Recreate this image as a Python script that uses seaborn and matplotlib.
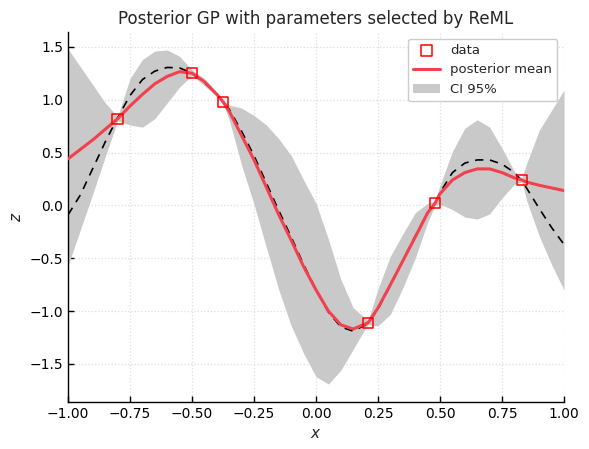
import numpy as np
import pandas as pd
import matplotlib
matplotlib.use('Agg')
import matplotlib.pyplot as plt
import seaborn as sns

x_grid = [-1.00, -0.95, -0.90, -0.85, -0.80, -0.75, -0.70, -0.65, -0.60, -0.55,
          -0.50, -0.45, -0.40, -0.375, -0.35, -0.30, -0.25, -0.20, -0.15, -0.10, -0.05,
          0.00, 0.05, 0.10, 0.15, 0.20, 0.21, 0.25, 0.30, 0.35, 0.40, 0.45, 0.48,
          0.50, 0.55, 0.60, 0.65, 0.70, 0.75, 0.80, 0.83, 0.85, 0.90, 0.95, 1.00]

posterior_mean = [0.44, 0.53, 0.62, 0.72, 0.82, 0.94, 1.05, 1.15, 1.22, 1.265,
                  1.25, 1.17, 1.05, 0.98, 0.89, 0.66, 0.43, 0.17, -0.09, -0.33, -0.58,
                  -0.80, -1.00, -1.13, -1.17, -1.12, -1.11, -0.97, -0.75, -0.525, -0.30, -0.07, 0.02,
                  0.11, 0.24, 0.31, 0.345, 0.345, 0.31, 0.26, 0.24, 0.22, 0.19, 0.165, 0.14]

ci_upper = [1.48, 1.31, 1.14, 0.97, 0.84, 1.20, 1.38, 1.46, 1.47, 1.41,
            1.28, 1.20, 1.07, 1.00, 0.95, 0.92, 0.85, 0.76, 0.63, 0.47, 0.24,
            0.02, -0.32, -0.70, -0.97, -1.07, -1.09, -0.79, -0.48, -0.27, -0.07, 0.02, 0.04,
            0.19, 0.51, 0.73, 0.81, 0.74, 0.54, 0.32, 0.26, 0.40, 0.71, 0.90, 1.09]

ci_lower = [-0.57, -0.23, 0.11, 0.46, 0.80, 0.76, 0.74, 0.82, 0.97, 1.12,
            1.23, 1.13, 1.03, 0.96, 0.81, 0.38, 0.01, -0.40, -0.80, -1.14, -1.40,
            -1.62, -1.69, -1.56, -1.36, -1.16, -1.13, -1.14, -1.03, -0.78, -0.50, -0.16, 0.00,
            0.01, -0.04, -0.11, -0.13, -0.08, 0.07, 0.20, 0.22, 0.04, -0.29, -0.56, -0.80]

true_f = [-0.09, 0.10, 0.35, 0.60, 0.83, 1.04, 1.19, 1.27, 1.305, 1.30,
          1.25, 1.16, 1.05, 0.98, 0.91, 0.70, 0.47, 0.21, -0.05, -0.30, -0.56,
          -0.80, -1.01, -1.15, -1.19, -1.13, -1.11, -0.98, -0.755, -0.525, -0.29, -0.07, 0.02,
          0.12, 0.31, 0.40, 0.43, 0.43, 0.39, 0.31, 0.23, 0.16, -0.03, -0.21, -0.37]

x_data = [-0.80, -0.50, -0.375, 0.21, 0.48, 0.83]
z_data = [0.82, 1.25, 0.98, -1.11, 0.02, 0.24]

sns.set_theme(style='white', rc={
    'xtick.direction': 'in', 'ytick.direction': 'in',
    'xtick.bottom': True, 'ytick.left': True,
    'axes.edgecolor': 'black', 'axes.linewidth': 1.0,
    'xtick.color': 'black', 'ytick.color': 'black',
})
plt.rcParams['font.family'] = ['DejaVu Sans']

curve = pd.DataFrame({'x': x_grid, 'mean': posterior_mean, 'true': true_f})
obs = pd.DataFrame({'x': x_data, 'z': z_data})

fig, ax = plt.subplots(figsize=(5.89, 4.49), dpi=100)
fig.subplots_adjust(left=0.1155, right=0.9576, bottom=0.1047, top=0.9287)

ax.fill_between(x_grid, ci_lower, ci_upper, color='#c9c9c9', linewidth=0,
                label='CI 95%', zorder=1)
sns.lineplot(data=curve, x='x', y='true', ax=ax, color='black', linewidth=1.2,
             linestyle=(0, (5, 4)), zorder=2)
sns.lineplot(data=curve, x='x', y='mean', ax=ax, color='#f2404e', linewidth=2.2,
             label='posterior mean', zorder=3)
sns.scatterplot(data=obs, x='x', y='z', ax=ax, marker='s', s=55,
                facecolor='none', edgecolor='red', linewidth=1.1,
                label='data', zorder=4)

ax.set_xlim(-1, 1)
ax.set_ylim(-1.86, 1.64)
ax.set_xticks([-1.0, -0.75, -0.5, -0.25, 0.0, 0.25, 0.5, 0.75, 1.0])
ax.set_yticks([-1.5, -1.0, -0.5, 0.0, 0.5, 1.0, 1.5])
ax.tick_params(labelsize=10, length=4, width=1)
ax.grid(True, linestyle=':', color='#dedede', linewidth=0.9)
sns.despine(ax=ax)

ax.set_title('Posterior GP with parameters selected by ReML', fontsize=12)
ax.set_xlabel('$x$', fontsize=11)
ax.set_ylabel('$z$', fontsize=11)

handles, labels = ax.get_legend_handles_labels()
order = ['data', 'posterior mean', 'CI 95%']
lookup = dict(zip(labels, handles))
ax.legend([lookup[k] for k in order], order, loc='upper right', fontsize=9.5,
          frameon=True, fancybox=True, edgecolor='#cccccc', framealpha=1)

plt.savefig('out.png', dpi=100)
plt.close()
